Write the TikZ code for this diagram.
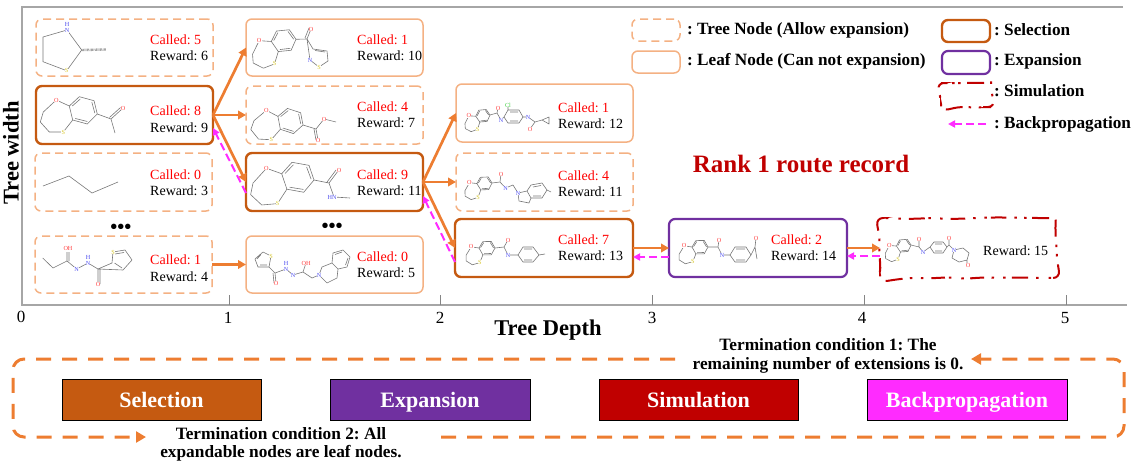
\documentclass[tikz,border=0pt]{standalone}
\usepackage{fontspec}
\setmainfont{Liberation Serif}
\usetikzlibrary{arrows.meta,decorations.pathmorphing}
\definecolor{cSel}{HTML}{C55A11}
\definecolor{cExp}{HTML}{7030A0}
\definecolor{cSim}{HTML}{C00000}
\definecolor{cBack}{HTML}{FF2BFF}
\definecolor{cOr}{HTML}{ED7D31}
\definecolor{cLeaf}{HTML}{F4B183}
\definecolor{cAx}{HTML}{A6A6A6}
\definecolor{bondc}{HTML}{777777}
\definecolor{atO}{HTML}{FF4040}
\definecolor{atS}{HTML}{D8C830}
\definecolor{atN}{HTML}{5050F0}
\definecolor{atG}{HTML}{40D040}
\newcommand\fs[1]{\fontsize{#1}{#1}\selectfont}
\newcounter{atomno}
\newcounter{txtno}
\tikzset{
  treebox/.style={draw=cLeaf,line width=1.5pt,rounded corners=6pt,dash pattern=on 8pt off 5pt,inner sep=0pt,outer sep=0pt},
  leafbox/.style={draw=cLeaf,line width=1.5pt,rounded corners=6pt,inner sep=0pt,outer sep=0pt},
  selbox/.style={draw=cSel,line width=2.4pt,rounded corners=6pt,inner sep=0pt,outer sep=0pt},
  expbox/.style={draw=cExp,line width=2.2pt,rounded corners=6pt,inner sep=0pt,outer sep=0pt},
  simbox/.style={draw=cSim,line width=2pt,rounded corners=7pt,dash pattern=on 17pt off 8pt on 2.5pt off 10pt on 2.5pt off 8pt,
     decorate,decoration={random steps,segment length=13pt,amplitude=1.1pt},inner sep=0pt,outer sep=0pt},
  phase/.style={draw=black,line width=.8pt,inner sep=0pt,outer sep=0pt},
  phtxt/.style={text=white,font=\bfseries\fs{22},inner sep=0pt,text height=17pt,text depth=2pt},
  go/.style={draw=cOr,line width=2.7pt,-{Triangle[length=8pt,width=8.5pt]}},
  back/.style={draw=cBack,line width=2pt,dash pattern=on 8pt off 4pt,-{Triangle[length=7pt,width=7pt]}},
  loopline/.style={draw=cOr,line width=3pt,dash pattern=on 15pt off 11pt,rounded corners=11pt},
  called/.style={text=red,font=\fs{14},anchor=west,inner sep=0pt},
  reward/.style={text=black,font=\fs{14},anchor=west,inner sep=0pt},
  legtxt/.style={font=\bfseries\fs{17.2},anchor=west,inner sep=0pt},
  termtxt/.style={font=\bfseries\fs{17.3},inner sep=0pt},
  bond/.style={draw=bondc,line width=.6pt,line join=round},
  atomlab/.style={font=\fs{6.2},inner sep=.1pt,fill=white},
  tick/.style={draw=cAx!80!black,line width=1pt},
  ticklab/.style={font=\fs{17},inner sep=0pt},
  axislab/.style={font=\bfseries\fs{22.5},inner sep=0pt},
  dotsl/.style={font=\bfseries\fs{20},inner sep=0pt},
}
\newcommand\bx[6]{\pgfmathsetmacro\bxw{#5-#3}\pgfmathsetmacro\bxh{#6-#4}%
  \node[#2,minimum width=\bxw pt,minimum height=\bxh pt] (#1) at ({(#3+#5)/2},{(#4+#6)/2}) {};}
\newcommand\atm[4]{\stepcounter{atomno}\node[atomlab,text=#4] (atom\theatomno) at (#1,#2) {#3};}
\newcommand\stat[5]{% x, y called, y reward, called, reward
  \stepcounter{txtno}\node[called] (c\thetxtno) at (#1,#2) {Called: #4};
  \node[reward] (r\thetxtno) at (#1,#3) {Reward: #5};}
% benzoxathiepine core; origin = ring atom carrying the substituent
\newcommand\core[4]{\begin{scope}[shift={(#1,#2)},rotate=#4,scale=#3]
  \draw[bond] (-28,-8) -- (-18,-17.3) -- (-3.3,-13.3) -- (0,0) -- (-10,10) -- (-24.6,6) -- cycle;
  \draw[bond] (-25,-8) -- (-17,-15) (-5.5,-12) -- (-2.5,-1) (-10,7.5) -- (-22,4.5);
  \draw[bond] (-28,-8) -- (-41,-14) -- (-54,-2) -- (-57,8) -- (-48,18) -- (-34,18) -- (-24.6,6);
  \atm{-41}{-14}{O}{atO}
  \atm{-34}{18}{S}{atS}
\end{scope}}
\begin{document}
\frenchspacing
\begin{tikzpicture}[x=1pt,y=-1pt]
\useasboundingbox (0,0) rectangle (1145,471);
% axes
\draw[cAx,line width=2.6pt] (1123,7) -- (22,7) -- (22,305) -- (1127,305);
\foreach \tx in {229,440,652,864,1066}{\draw[tick] (\tx,295) -- (\tx,305);}
\node[ticklab] (t0) at (21,317) {0};
\node[ticklab] (t1) at (228,318) {1};
\node[ticklab] (t2) at (440,318) {2};
\node[ticklab] (t3) at (652,318) {3};
\node[ticklab] (t4) at (862,318) {4};
\node[ticklab] (t5) at (1065,318) {5};
\node[axislab] (xl) at (548,330) {Tree Depth};
\node[axislab,rotate=90] (yl) at (11,153) {Tree width};
% tree boxes
\bx{A}{treebox}{36}{19}{213}{76}
\bx{B}{selbox}{36}{86}{213}{144}
\bx{C}{treebox}{35}{153}{212}{211}
\bx{D}{treebox}{35}{236}{212}{293}
\bx{E}{leafbox}{246}{19}{423}{76}
\bx{F}{treebox}{246}{86}{423}{144}
\bx{G}{selbox}{246}{153}{423}{211}
\bx{H}{leafbox}{246}{236}{423}{293}
\bx{I}{leafbox}{456}{84}{633}{142}
\bx{J}{treebox}{456}{153}{633}{211}
\bx{K}{selbox}{455}{219}{633}{277}
\bx{L}{expbox}{669}{219}{847}{277}
\pgfmathsetseed{11}
\bx{M}{simbox}{880}{218}{1056}{278}
\stat{150}{40}{56}{5}{6}
\stat{150}{111}{128}{8}{9}
\stat{150}{175}{191}{0}{3}
\stat{150}{260}{277}{1}{4}
\stat{357}{40}{56}{1}{10}
\stat{357}{107}{123}{4}{7}
\stat{357}{175}{191}{9}{11}
\stat{357}{257}{273}{0}{5}
\stat{558}{108}{124}{1}{12}
\stat{558}{176}{192}{4}{11}
\stat{558}{240}{256}{7}{13}
\stat{771}{240}{256}{2}{14}
\node[reward] (r15) at (983,251) {Reward: 15};
\node[dotsl] (dots1) at (121,229) {•••};
\node[dotsl] (dots2) at (332,228) {•••};
% connectors
\draw[go] (B.east) -- (E.west);
\draw[go] (B.east) -- (F.west);
\draw[go] (B.east) -- (G.west);
\draw[go] (D.east) -- (H.west);
\draw[go] (G.east) -- (I.west);
\draw[go] (G.east) -- (J.west);
\draw[go] (G.east) -- (K.west);
\draw[go] (K.east) -- (L.west);
\draw[go] (L.east) -- (M.west);
\draw[back] ([yshift=-11pt]G.west) -- ([yshift=-13pt]B.east);
\draw[back] ([yshift=-14pt]K.west) -- ([yshift=-14pt]G.east);
\draw[back] ([yshift=-9pt]L.west) -- ([yshift=-9pt]K.east);
\draw[back] ([yshift=-8pt]M.west) -- ([yshift=-8pt]L.east);
% molecules
% A
\draw[bond] (67,30) -- (43,37) -- (43,61.7) -- (66.7,70.7) -- (81.7,50) -- cycle;
\draw[bond,line width=2.4pt,dash pattern=on .5pt off .8pt] (82,50) -- (106,49.5);
\atm{67}{30.5}{N}{atN}\atm{67}{24.5}{H}{atN}\atm{66.7}{70.7}{S}{atS}
% B
\core{97.3}{114}{1}{0}
\draw[bond] (97.3,114) -- (111,119) -- (122,109) (109.5,117.5) -- (120.5,107.5) (111,119) -- (115,133);
\atm{123}{108}{O}{atO}
% C
\draw[bond] (43,186) -- (69,176) -- (92,193) -- (118,182);
% D
\draw[bond] (42.7,258) -- (53,268) -- (67,261) -- (67,252) (69,261) -- (69,252) (67,261) -- (76.7,269) -- (88,263) -- (98,269) -- (98,284) (100,269) -- (100,284) (98,269) -- (112,263) -- (113,252) -- (125,250) -- (132,260) -- (123,270) -- cycle;
\draw[bond] (115,254) -- (124,252.5) (114.5,263) -- (122,268);
\atm{68}{248}{OH}{atO}\atm{76.7}{269}{N}{atN}\atm{88}{263.5}{N}{atN}\atm{88}{257.5}{H}{atN}\atm{98}{284}{O}{atO}\atm{113}{252}{S}{atS}
% E
\core{296}{39.3}{.85}{21}
\draw[bond] (296,39.3) -- (307,39) -- (311,29) (305,38) -- (309,28) (307,39) -- (313,49) -- (327,51) -- (328,61) -- (319,67) -- (310,60) -- cycle (315,50.5) -- (325,52);
\atm{311}{29}{O}{atO}\atm{319}{67}{S}{atS}\atm{310}{60}{N}{atN}
% F
\core{303}{125}{.91}{-3}
\draw[bond] (303,125) -- (316,129) -- (324,119) -- (336,122) (316,129) -- (318,140) (314,129) -- (316,140);
\atm{324}{119}{O}{atO}\atm{318}{140}{O}{atO}
% G
\core{314}{180}{1.13}{5}
\draw[bond] (314,180) -- (329,183) -- (338,171) (327,182) -- (336,170) (329,183) -- (334,197) -- (350,198);
\atm{339}{170}{O}{atO}\atm{332}{197}{HN}{atN}
% H
\draw[bond] (263,252) -- (271,256) -- (269,267) -- (258,267) -- (255,259) -- cycle (261,254.5) -- (257,259) (260,265) -- (267,265);
\draw[bond] (269,267) -- (275,273) -- (276,283) (273,273) -- (274,283) (275,273) -- (286,269) -- (293,275) -- (303,272) -- (306,263) (303,272) -- (312,278) -- (319,275) -- (322,267) -- (332,263) -- (338,269) -- (337,278) -- (327,283) -- (319,275) (332,263) -- (333,253) -- (343,250) -- (350,257) -- (347,267) -- (338,269) (335,254.5) -- (342,252) (348,258) -- (345.5,265);
\atm{271}{256}{S}{atS}\atm{276}{283}{O}{atO}\atm{286}{269.5}{N}{atN}\atm{286}{263.5}{H}{atN}\atm{293}{275}{N}{atN}\atm{306}{263}{OH}{atO}\atm{319}{275}{N}{atN}
% I
\core{490}{115}{.49}{21}
\draw[bond] (490,115) -- (497,113) -- (498,108) (497,113) -- (501,120) -- (504,117) -- (508,110) -- (519,110) -- (523,117) -- (519,123) -- (508,123) -- (504,117) (510,112) -- (518,112) (510,121) -- (518,121) (508,110) -- (508,106) (523,117) -- (528,117) -- (535,122) -- (530,129) (535,122) -- (542,120) -- (549,117) -- (549,124) -- (542,120);
\atm{498}{108}{O}{atO}\atm{501}{120}{N}{atN}\atm{508}{105}{Cl}{atG}\atm{528}{117}{N}{atN}\atm{530}{129}{O}{atO}
% J
\core{492}{183}{.52}{18}
\draw[bond] (492,183) -- (500,182) -- (501,174) (500,182) -- (505.5,188) -- (513,185) -- (518,193) -- (519,201) -- (529,203) -- (531,198) (518,193) -- (527,191) -- (531,185) -- (542,183) -- (547,190) -- (542,198) -- (531,198) -- (527,191) (533,187) -- (541,185.5) (533,196) -- (541,196) (547,190) -- (551,192);
\atm{501}{174}{O}{atO}\atm{505.5}{188}{N}{atN}\atm{518}{193}{N}{atN}
% K
\core{495}{248}{.55}{16}
\draw[bond] (495,248) -- (504,247) -- (508,240) (504,247) -- (508,255) -- (518,255) -- (523,247) -- (533,247) -- (539,255) -- (533,262) -- (523,262) -- (518,255) (524,249) -- (532,249) (524,260) -- (532,260) (539,255) -- (545,254);
\atm{508}{240}{O}{atO}\atm{508}{255}{N}{atN}
% L
\core{708}{247}{.55}{16}
\draw[bond] (708,247) -- (718,247) -- (719,240) (718,247) -- (722,255) -- (730,255) -- (735,247) -- (746,247) -- (751,255) -- (746,262) -- (735,262) -- (730,255) (736,249) -- (745,249) (736,260) -- (745,260) (751,255) -- (755,247) -- (756,238) (755,247) -- (757,259);
\atm{719}{240}{O}{atO}\atm{722}{255}{N}{atN}\atm{756}{238}{O}{atO}
% M
\core{911}{245}{.5}{20}
\draw[bond] (911,245) -- (919,247) -- (919,239) (919,247) -- (923,252) -- (930,247) -- (934,242) -- (943,242) -- (947,247) -- (943,253) -- (934,253) -- (930,247) (935,244) -- (942,244) (935,251) -- (942,251) (947,247) -- (949,245) -- (949,238) (949,245) -- (954,250) -- (963,248) -- (969,253) -- (967,260) -- (959,262) -- (952,258) -- (954,250) (967,260) -- (967,264);
\atm{919}{239}{O}{atO}\atm{923}{252}{N}{atN}\atm{949}{238}{O}{atO}\atm{954}{250}{N}{atN}\atm{968}{265}{O}{atO}
% legend
\bx{l1}{treebox}{632}{19}{680}{41}
\bx{l2}{leafbox}{632}{51}{680}{73}
\bx{l3}{selbox}{942}{20}{990}{42}
\bx{l4}{expbox}{942}{51}{990}{74}
\bx{l5}{simbox}{941}{83}{991}{107}
\coordinate (bkS) at (986,124);
\coordinate (bkE) at (948,124);
\draw[back] (bkS) -- (bkE);
\node[legtxt] (lt1) at (687,30) {: Tree Node (Allow expansion)};
\node[legtxt] (lt2) at (687,61) {: Leaf Node (Can not expansion)};
\node[legtxt] (lt3) at (994,30) {: Selection};
\node[legtxt] (lt4) at (994,61) {: Expansion};
\node[legtxt] (lt5) at (994,91) {: Simulation};
\node[legtxt] (lt6) at (994,124) {: Backpropagation};
\node[font=\bfseries\fs{25},text=cSim,inner sep=0pt] (rank) at (801,164) {Rank 1 route record};
% bottom
\bx{p1}{phase,fill=cSel}{62}{379}{261}{420}
\bx{p2}{phase,fill=cExp}{330}{379}{530}{420}
\bx{p3}{phase,fill=cSim}{599}{379}{798}{420}
\bx{p4}{phase,fill=cBack}{867}{379}{1067}{420}
\node[phtxt] (p1t) at (p1) {Selection};
\node[phtxt] (p2t) at (p2) {Expansion};
\node[phtxt] (p3t) at (p3) {Simulation};
\node[phtxt] (p4t) at (p4) {Backpropagation};
\coordinate (lA) at (441,437);
\coordinate (lB) at (1124,437);
\coordinate (lC) at (1124,359);
\coordinate (lD) at (971,359);
\coordinate (lE) at (675,359);
\coordinate (lF) at (13,359);
\coordinate (lG) at (13,437);
\coordinate (lH) at (146,437);
\draw[loopline,-{Triangle[length=10pt,width=11pt]}] (lA) -- (lB) -- (lC) -- (lD);
\draw[loopline,-{Triangle[length=10pt,width=11pt]}] (lE) -- (lF) -- (lG) -- (lH);
\node[termtxt] (tc1a) at (828,345) {Termination condition 1: The};
\node[termtxt] (tc1b) at (828,365) {remaining number of extensions is 0.};
\node[termtxt] (tc2a) at (281,434) {Termination condition 2: All};
\node[termtxt] (tc2b) at (281,453) {expandable nodes are leaf nodes.};
\end{tikzpicture}
\end{document}
